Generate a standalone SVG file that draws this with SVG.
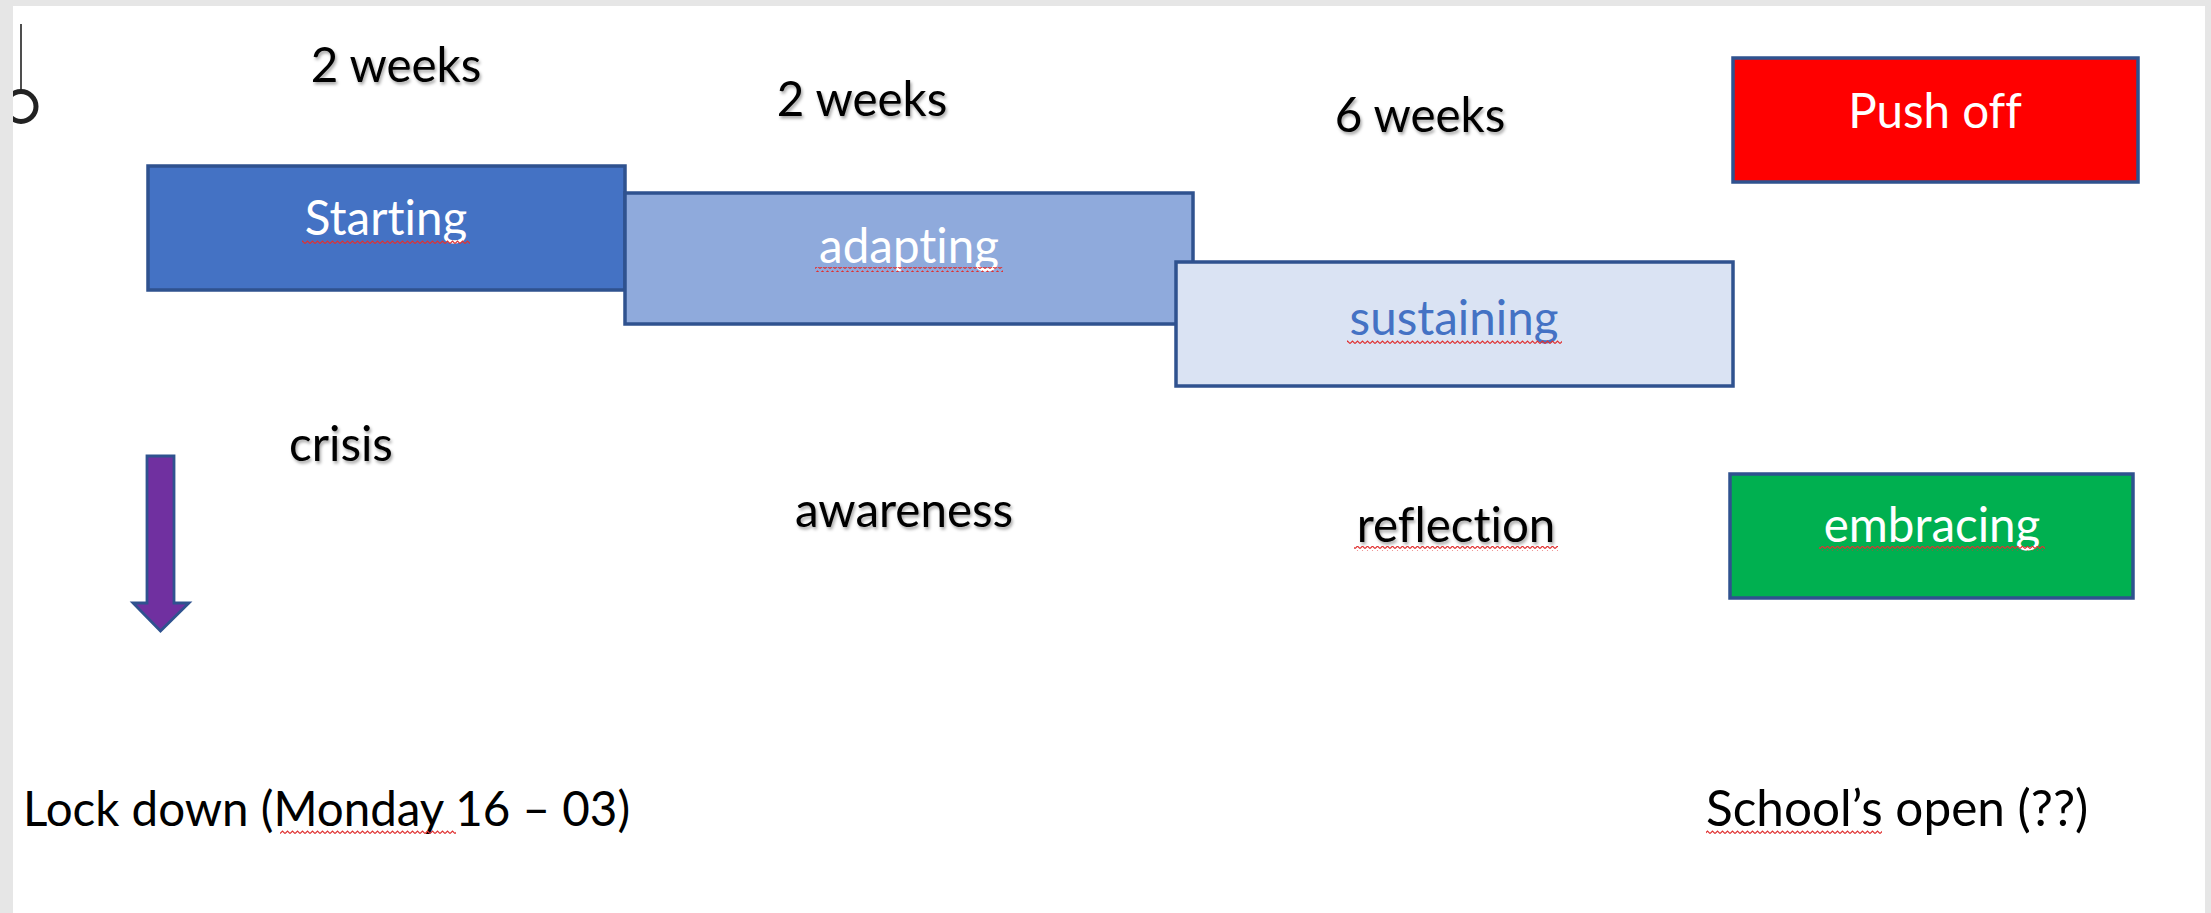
<svg xmlns="http://www.w3.org/2000/svg" width="2211" height="913" viewBox="0 0 2211 913">
<style>
.box{stroke:#2F528F;stroke-width:3.5}
.t{font-family:Lato,"Open Sans",sans-serif;font-size:47.5px;text-anchor:middle;font-variant-ligatures:none;font-feature-settings:"liga" 0}
.dark{fill:#000;filter:url(#sh)}
.light{fill:#fff}
.sq{fill:url(#squig)}
</style>
<defs>
<filter id="sh" x="-10%" y="-30%" width="120%" height="160%">
<feDropShadow dx="1.5" dy="2.5" stdDeviation="1.5" flood-color="#000" flood-opacity="0.35"/>
</filter>
<pattern id="squig" width="5" height="5" patternUnits="userSpaceOnUse">
<path d="M0 3.5 L2.5 1 L5 3.5" fill="none" stroke="#E03030" stroke-width="1.2"/>
</pattern>
</defs>
<rect x="0" y="0" width="2211" height="913" fill="#fff"/>
<g id="cursor">
<line x1="21" y1="24" x2="21" y2="90" stroke="#222" stroke-width="1.6"/>
<circle cx="21" cy="106.5" r="15" fill="none" stroke="#222" stroke-width="5"/>
</g>
<g id="frame" fill="#E6E6E6">
<rect x="0" y="0" width="2211" height="6"/>
<rect x="0" y="0" width="13" height="913"/>
<rect x="2205" y="0" width="6" height="913"/>
</g>
<g id="labels-top">
<text class="t dark" x="396" y="82">2 weeks</text>
<text class="t dark" x="862" y="116">2 weeks</text>
<text class="t dark" x="1420" y="132">6 weeks</text>
</g>
<g id="starting">
<rect class="box" x="148" y="166" width="477" height="124" fill="#4472C4"/>
<text class="t light" x="386" y="235">Starting</text>
<rect class="sq" x="302" y="239" width="168" height="5"/>
</g>
<g id="adapting">
<rect class="box" x="625" y="193" width="568" height="131" fill="#8FAADC"/>
<text class="t light" x="909" y="263">adapting</text>
<rect class="sq" x="815" y="267" width="188" height="5"/>
</g>
<g id="sustaining">
<rect class="box" x="1176" y="262" width="557" height="124" fill="#DAE3F3"/>
<text class="t" fill="#4472C4" x="1454" y="335">sustaining</text>
<rect class="sq" x="1347" y="339" width="215" height="5"/>
</g>
<g id="pushoff">
<rect class="box" x="1733" y="58" width="405" height="124" fill="#FF0000"/>
<text class="t light" x="1935" y="128">Push off</text>
</g>
<g id="embracing">
<rect class="box" x="1730" y="474" width="403" height="124" fill="#00B050"/>
<text class="t light" x="1932" y="542">embracing</text>
<rect class="sq" x="1819" y="546" width="226" height="5"/>
</g>
<g id="labels-mid">
<text class="t dark" x="341" y="461">crisis</text>
<text class="t dark" x="904" y="527">awareness</text>
<text class="t dark" x="1456" y="542">reflection</text>
<rect class="sq" x="1354" y="546" width="204" height="5"/>
</g>
<g id="connectors">
<path d="M147 456 H174 V603 H189 L160.5 631 L133 603 H147 Z" fill="#7030A0" stroke="#2F528F" stroke-width="2.8"/>
</g>
<g id="labels-bottom">
<text class="t" x="23" y="826" style="text-anchor:start">Lock down (Monday 16 – 03)</text>
<rect class="sq" x="280" y="830" width="176" height="5"/>
<text class="t" x="1706" y="826" style="text-anchor:start;font-size:49.5px">School’s open (??)</text>
<rect class="sq" x="1706" y="830" width="176" height="5"/>
</g>
</svg>
